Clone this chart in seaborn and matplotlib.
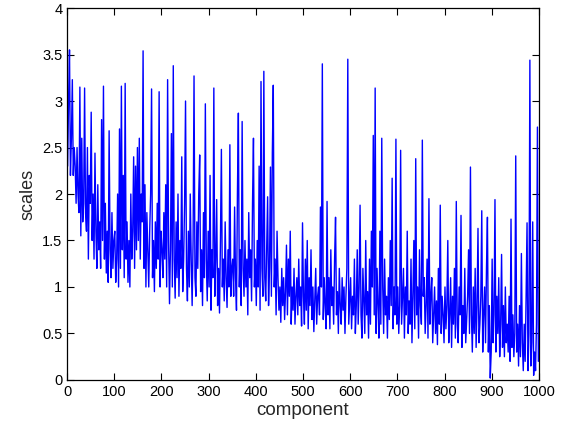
import numpy as np
import matplotlib
matplotlib.use("Agg")
import matplotlib.pyplot as plt
import seaborn as sns
from matplotlib.ticker import FuncFormatter

# component index (every other component, 1..999)
component = np.arange(1, 1000, 2)

scales = [
    # 1-49
    2.3, 3.0, 3.55, 2.2, 2.6, 3.23, 2.2, 2.5, 2.3, 1.9, 2.5, 2.0, 1.8, 3.15, 1.55, 2.6, 1.7, 1.9, 3.14, 1.8, 1.6, 2.5, 1.3, 2.2, 1.9,
    # 51-99
    2.88, 1.5, 2.0, 1.3, 2.44, 1.6, 1.2, 2.1, 1.4, 1.7, 1.2, 2.8, 1.5, 3.16, 1.3, 1.9, 1.15, 1.6, 1.05, 2.68, 1.4, 1.1, 1.8, 1.2, 1.5,
    # 101-149
    1.6, 1.05, 1.3, 2.0, 1.0, 2.7, 1.2, 3.16, 1.4, 2.2, 1.1, 3.19, 1.3, 1.7, 1.05, 1.5, 1.0, 2.0, 1.3, 1.6, 2.4, 1.2, 2.3, 1.4, 2.5,
    # 151-199
    1.5, 2.6, 1.3, 2.0, 1.7, 3.54, 1.2, 2.1, 1.0, 1.8, 1.4, 1.0, 1.6, 2.0, 3.13, 1.1, 1.5, 0.95, 1.7, 1.2, 1.9, 1.3, 3.1, 1.0, 1.6,
    # 201-249
    1.4, 1.1, 1.8, 1.3, 2.1, 1.0, 3.23, 1.5, 0.82, 1.4, 2.65, 1.0, 3.38, 1.3, 0.88, 1.7, 1.1, 2.0, 0.9, 1.5, 1.2, 2.4, 0.95, 1.3, 1.9,
    # 251-299
    3.0, 1.2, 0.85, 1.6, 1.0, 2.0, 1.3, 0.8, 1.5, 3.27, 1.1, 0.9, 1.7, 1.2, 2.0, 2.42, 0.95, 1.4, 0.8, 1.8, 1.1, 2.97, 1.3, 0.85, 1.6,
    # 301-349
    1.0, 2.2, 0.75, 1.4, 1.1, 3.14, 0.9, 1.3, 1.94, 0.8, 1.2, 0.72, 1.5, 2.48, 1.0, 1.3, 0.85, 1.7, 1.1, 0.78, 1.4, 1.0, 2.53, 0.9, 1.2,
    # 351-399
    1.3, 0.9, 1.86, 1.1, 0.75, 2.0, 2.87, 1.0, 1.4, 0.8, 2.78, 1.2, 0.9, 1.5, 1.0, 1.3, 0.7, 1.8, 1.1, 1.4, 0.85, 1.9, 2.6, 1.0, 1.3,
    # 401-449
    0.8, 1.5, 1.0, 2.3, 0.75, 3.21, 1.2, 0.9, 3.32, 1.1, 0.85, 1.4, 1.97, 0.8, 1.2, 2.29, 0.9, 2.44, 3.17, 1.0, 1.3, 0.7, 1.6, 1.1, 0.75,
    # 451-499
    1.0, 0.62, 1.2, 0.8, 1.1, 0.65, 0.95, 1.45, 0.7, 1.3, 0.9, 1.6, 0.6, 1.0, 0.75, 1.2, 0.6, 0.9, 1.1, 0.7, 1.3, 0.8, 1.0, 0.58, 1.69,
    # 501-549
    0.9, 0.6, 1.3, 0.75, 1.5, 0.55, 1.1, 0.8, 1.4, 0.65, 1.0, 0.52, 0.85, 1.2, 0.6, 0.9, 1.0, 0.7, 1.86, 1.0, 3.4, 0.65, 1.1, 0.8, 0.55,
    # 551-599
    1.92, 0.7, 1.1, 0.55, 1.4, 0.8, 1.0, 0.6, 1.3, 1.75, 0.7, 0.95, 0.5, 1.2, 0.8, 0.6, 1.1, 0.75, 1.0, 0.5, 0.9, 1.2, 3.45, 0.6, 0.85,
    # 601-649
    1.1, 0.55, 0.9, 0.7, 1.3, 0.5, 0.8, 1.4, 0.6, 1.0, 1.88, 0.7, 0.45, 1.2, 0.85, 0.5, 1.5, 0.7, 0.95, 0.45, 1.3, 0.6, 1.6, 1.0, 2.63,
    # 651-699
    0.7, 3.14, 0.5, 1.2, 0.8, 0.45, 1.6, 0.6, 2.6, 1.0, 0.5, 1.3, 0.7, 0.9, 0.45, 1.1, 0.65, 1.5, 0.8, 2.17, 0.55, 1.0, 0.7, 2.59, 0.6,
    # 701-749
    1.0, 0.5, 0.8, 2.47, 0.6, 0.9, 1.2, 0.45, 1.0, 0.7, 1.6, 0.5, 0.85, 0.6, 1.3, 0.4, 0.9, 1.5, 0.55, 2.38, 0.7, 1.0, 0.45, 1.4, 0.8,
    # 751-799
    0.6, 2.58, 0.9, 1.1, 0.5, 0.8, 1.3, 0.45, 1.95, 0.6, 0.9, 1.1, 0.4, 0.7, 1.0, 0.5, 0.85, 0.38, 1.2, 0.6, 1.88, 0.5, 0.9, 0.7, 0.4,
    # 801-849
    1.0, 0.55, 0.8, 1.5, 0.4, 0.7, 1.1, 0.35, 0.9, 0.6, 1.2, 0.45, 1.92, 0.6, 0.4, 1.0, 0.7, 1.77, 0.35, 0.8, 0.5, 1.2, 0.4, 0.65, 0.9,
    # 851-899
    1.4, 0.5, 2.29, 0.7, 0.3, 1.0, 0.5, 1.2, 0.35, 0.8, 1.63, 0.4, 0.6, 0.9, 1.82, 0.3, 0.7, 1.0, 0.4, 1.2, 1.75, 0.3, 0.8, 0.02, 0.3,
    # 901-949
    1.3, 0.4, 0.7, 1.94, 0.3, 0.9, 0.5, 1.1, 0.25, 0.6, 1.35, 0.35, 0.8, 0.25, 1.0, 0.4, 0.6, 0.3, 0.9, 0.2, 1.73, 0.35, 0.7, 0.25, 0.5,
    # 951-999
    2.41, 0.3, 0.6, 0.15, 0.8, 0.25, 1.36, 0.4, 0.1, 0.6, 0.2, 0.9, 1.69, 0.1, 0.5, 3.44, 0.15, 0.4, 1.7, 0.05, 0.3, 0.1, 0.6, 2.72, 0.2,
]

x_ticks = [0, 100, 200, 300, 400, 500, 600, 700, 800, 900, 1000]
y_ticks = [0, 0.5, 1, 1.5, 2, 2.5, 3, 3.5, 4]

sns.set_style("ticks")
plt.rcParams['font.family'] = ['Liberation Sans', 'DejaVu Sans']

fig = plt.figure(figsize=(5.69, 4.25), dpi=100)
ax = fig.add_axes([0.118, 0.106, 0.829, 0.875])

sns.lineplot(x=component, y=scales, color=(0, 0, 1), linewidth=1.0, ax=ax)

ax.set_xlim(0, 1000)
ax.set_ylim(0, 4)
ax.set_xticks(x_ticks)
ax.set_yticks(y_ticks)
ax.yaxis.set_major_formatter(FuncFormatter(lambda v, p: f"{v:g}"))
ax.tick_params(direction='in', top=True, right=True, length=5, width=0.8,
               labelsize=10.5, colors='black')
for s in ax.spines.values():
    s.set_visible(True)
    s.set_linewidth(0.9)
    s.set_color('black')
ax.set_xlabel("component", fontsize=13.5, labelpad=2)
ax.set_ylabel("scales", fontsize=13, labelpad=4)

fig.savefig("out.png", dpi=100)
